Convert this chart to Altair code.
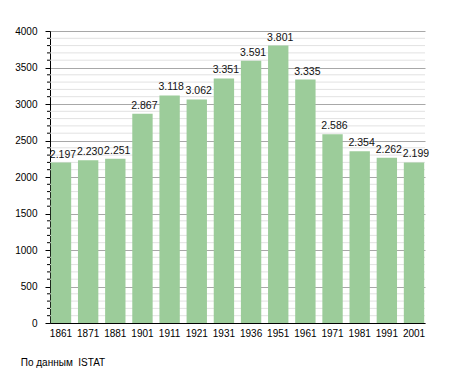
import altair as alt
import pandas as pd

years = ["1861", "1871", "1881", "1901", "1911", "1921", "1931", "1936", "1951", "1961", "1971", "1981", "1991", "2001"]
population = [2197, 2230, 2251, 2867, 3118, 3062, 3351, 3591, 3801, 3335, 2586, 2354, 2262, 2199]
major_ticks = [0, 500, 1000, 1500, 2000, 2500, 3000, 3500, 4000]
minor_ticks = [v for v in range(0, 4001, 100) if v % 500 != 0]
source_note = "По данным\u00a0 ISTAT"

df = pd.DataFrame({"year": years, "pop": population})
minor_df = pd.DataFrame({"pop": minor_ticks})

FONT = "Liberation Sans"

x = alt.X("year:N", sort=years, title=None,
          scale=alt.Scale(paddingInner=0.25, paddingOuter=0.03),
          axis=alt.Axis(labelAngle=0, labelFont=FONT, labelFontSize=10, labelColor="#000",
                        domainColor="#000", ticks=False, labelPadding=5, grid=False))
yscale = alt.Scale(domain=[0, 4000], nice=False)
yaxis = alt.Axis(values=major_ticks, format="d",
                 labelFont=FONT, labelFontSize=10, labelColor="#000",
                 domainColor="#000", tickColor="#000", tickSize=5,
                 grid=True, gridColor="#a8a8a8", labelPadding=8)
y = alt.Y("pop:Q", title=None, scale=yscale, axis=yaxis)

minor_grid = alt.Chart(minor_df).mark_rule(color="#e2e2e2", strokeWidth=1).encode(
    y=y, x=alt.value(0), x2=alt.value(375))

minor_tick = alt.Chart(minor_df).mark_rule(color="#000", strokeWidth=1).encode(
    y=y, x=alt.value(-3), x2=alt.value(0))

bars = alt.Chart(df).mark_bar(color="#9ccc9a").encode(x=x, y=y)

labels = alt.Chart(df).transform_calculate(
    lab="replace(format(datum.pop, ','), ',', '.')"
).mark_text(align="left", baseline="bottom", dx=-1, dy=-3, font=FONT, fontSize=10.5, color="#111").encode(
    x=alt.X("year:N", sort=years, bandPosition=0), y=y, text="lab:N")

chart = alt.layer(minor_grid, bars, minor_tick, labels).properties(
    width=375, height=292,
    padding={"left": 42, "top": 23, "right": 21, "bottom": 48},
    autosize=alt.AutoSizeParams(type="none"),
    title=alt.TitleParams(source_note, orient="bottom", anchor="start", dx=6, offset=20,
                          font=FONT, fontSize=10, fontWeight="normal", color="#000"),
).configure_view(stroke=None)

chart.save("out.html", embed_options={"renderer": "svg", "actions": False})
